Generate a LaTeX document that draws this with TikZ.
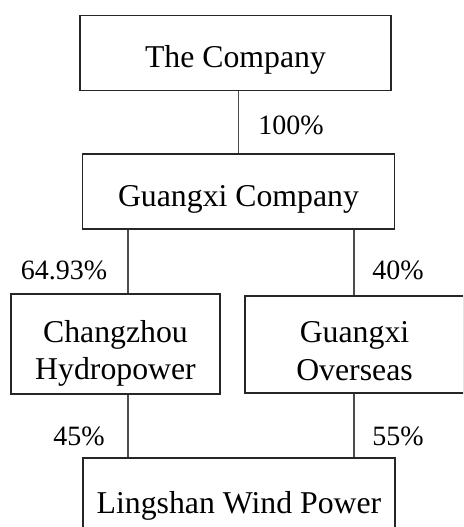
\documentclass[tikz,border=0pt]{standalone}
\usepackage{fontspec}
\setmainfont{Liberation Serif}
\usetikzlibrary{positioning}

\begin{document}
\begin{tikzpicture}[line width=0.8pt,
  entity/.style={draw=black!85, inner sep=0pt, align=center,
    font=\fontsize{22.6}{26.8}\selectfont, text height=20.9pt, text depth=0pt},
  twoline/.style={text height=51.2pt},
  share/.style={inner sep=0pt, font=\fontsize{19.9}{24}\selectfont},
  link/.style={draw=black!70}]

% ---------- frame ----------
\useasboundingbox (0,0) rectangle (11.575,13.175);
\clip (0,0) rectangle (11.575,13.175);

% ---------- companies ----------
\node[entity, minimum width=7.775cm, minimum height=1.875cm] (comp) at (5.8875,11.85) {The Company};
\node[entity, minimum width=7.8cm, minimum height=1.875cm]   (gx)   at (5.9625,8.3875) {Guangxi Company};
\node[entity, twoline, minimum width=5.225cm, minimum height=2.5cm]   (cz)  at (2.8875,4.575) {Changzhou\\Hydropower};
\node[entity, twoline, minimum width=5.475cm, minimum height=2.425cm] (gxo) at (8.8625,4.5625) {Guangxi\\Overseas};
\node[entity, minimum width=7.8cm, minimum height=2.025cm]   (ls)   at (5.975,0.7125) {Lingshan Wind Power};

% ---------- branch columns ----------
\coordinate (colL) at (3.2,0);
\coordinate (colR) at (8.85,0);

% ---------- holdings ----------
\draw[link] (comp.south -| gx.north) -- (gx.north);
\draw[link] (gx.south -| colL) -- (cz.north -| colL);
\draw[link] (gx.south -| colR) -- (gxo.north -| colR);
\draw[link] (cz.south -| colL) -- (ls.north -| colL);
\draw[link] (gxo.south -| colR) -- (ls.north -| colR);

% ---------- percentages ----------
\node[share] (p1) at (7.275,10.05) {100\%};
\node[share] (p2) at (1.6,6.425)   {64.93\%};
\node[share] (p3) at (9.95,6.425)  {40\%};
\node[share] (p4) at (1.975,2.275) {45\%};
\node[share] (p5) at (9.95,2.275)  {55\%};

\end{tikzpicture}
\end{document}
